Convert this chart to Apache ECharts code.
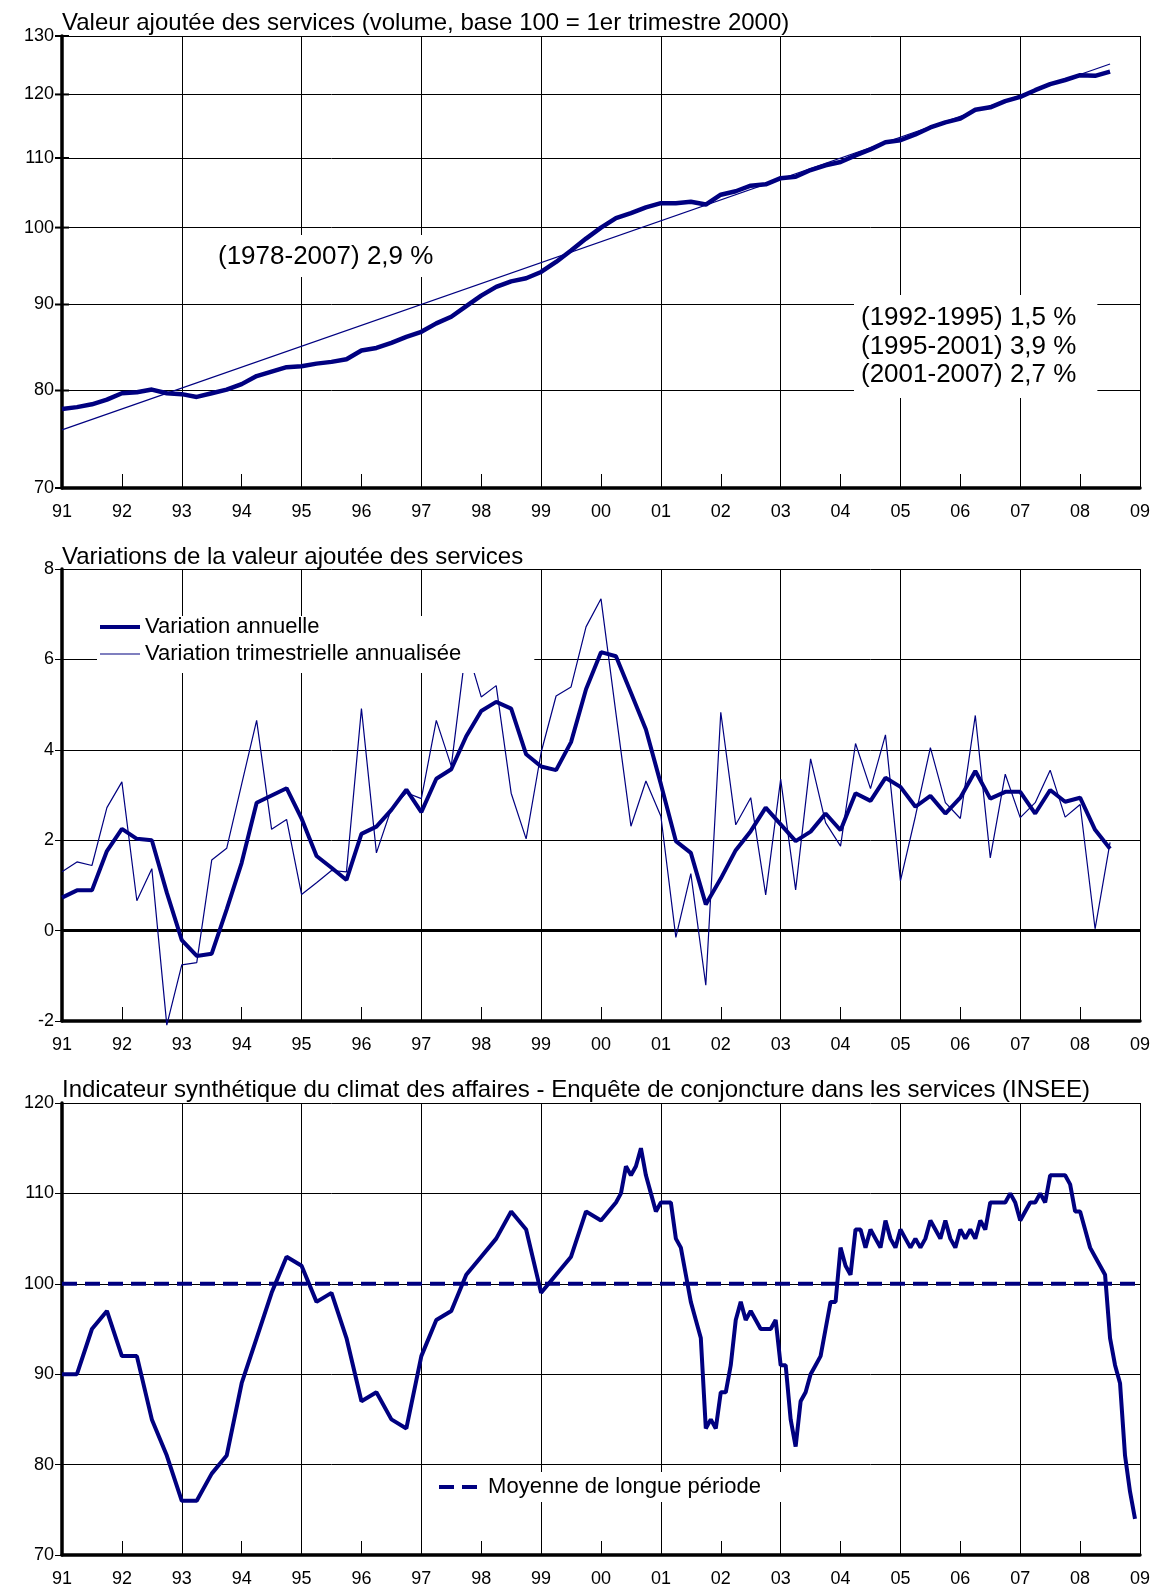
<!DOCTYPE html>
<html lang="fr">
<head>
<meta charset="utf-8">
<title>Valeur ajoutée et climat des affaires dans les services</title>
<script src="https://cdn.jsdelivr.net/npm/echarts@6/dist/echarts.min.js"></script>
<style>
  html, body { margin: 0; padding: 0; background: #fff; }
  #chart { width: 1153px; height: 1590px; }
</style>
</head>
<body>
<div id="chart"></div>
<script>
// axe des temps : x = années écoulées depuis 1991
const annees = ['91', '92', '93', '94', '95', '96', '97', '98', '99', '00',
  '01', '02', '03', '04', '05', '06', '07', '08', '09']

// valeur ajoutée des services, volume, base 100 = 1er trimestre 2000 (1991T1 - 2008T3)
const valeurAjoutee = [
  78.0, 78.2, 78.5, 79.0,
  79.7, 79.8, 80.1, 79.7,
  79.6, 79.3, 79.7, 80.1,
  80.7, 81.6, 82.1, 82.6,
  82.7, 83.0, 83.2, 83.5,
  84.5, 84.8, 85.4, 86.1,
  86.7, 87.7, 88.5, 89.8,
  91.1, 92.2, 92.9, 93.3,
  94.1, 95.4, 96.9, 98.5,
  100.0, 101.3, 102.0, 102.8,
  103.4, 103.4, 103.6, 103.2,
  104.6, 105.1, 105.9, 106.1,
  107.0, 107.2, 108.2, 108.9,
  109.4, 110.4, 111.3, 112.4,
  112.7, 113.6, 114.7, 115.5,
  116.1, 117.5, 117.9, 118.9,
  119.6, 120.7, 121.7, 122.4,
  123.2, 123.1, 123.8,
]
// tendance (1978-2007) 2,9 % : trimestres de début et de fin, valeurs lues
const tendanceTrimestres = [0, 70]
const tendance = [75.8, 125.1]
const graduationsVA = [70, 80, 90, 100, 110, 120, 130]

// variations en % (1991T1 - 2008T3)
const variationAnnuelle = [
  0.73, 0.89, 0.89, 1.76,
  2.25, 2.03, 2.00, 0.84,
  -0.21, -0.56, -0.51, 0.47,
  1.50, 2.83, 2.99, 3.15,
  2.48, 1.65, 1.39, 1.12,
  2.14, 2.30, 2.67, 3.12,
  2.62, 3.36, 3.57, 4.30,
  4.86, 5.06, 4.91, 3.90,
  3.63, 3.55, 4.17, 5.34,
  6.16, 6.07, 5.26, 4.45,
  3.24, 1.98, 1.72, 0.58,
  1.15, 1.78, 2.20, 2.72,
  2.35, 1.98, 2.19, 2.59,
  2.22, 3.04, 2.87, 3.38,
  3.18, 2.74, 2.98, 2.59,
  2.94, 3.53, 2.92, 3.07,
  3.07, 2.59, 3.11, 2.85,
  2.94, 2.23, 1.81,
]
const variationTrimestrielle = [
  1.30, 1.52, 1.44, 2.72,
  3.29, 0.66, 1.37, -2.09,
  -0.76, -0.71, 1.56, 1.82,
  3.24, 4.65, 2.24, 2.46,
  0.80, 1.06, 1.33, 1.30,
  4.91, 1.72, 2.70, 3.05,
  2.92, 4.65, 3.64, 6.30,
  5.17, 5.42, 3.04, 2.03,
  3.94, 5.19, 5.39, 6.72,
  7.34, 4.80, 2.31, 3.31,
  2.53, -0.15, 1.26, -1.21,
  4.83, 2.34, 2.94, 0.79,
  3.35, 0.90, 3.80, 2.39,
  1.87, 4.14, 3.14, 4.33,
  1.10, 2.53, 4.05, 2.83,
  2.48, 4.76, 1.61, 3.46,
  2.50, 2.83, 3.55, 2.51,
  2.79, 0.04, 1.95,
]

// climat des affaires : trimestriel 1991T1 - 2000T1, puis mensuel avril 2000 - décembre 2008
const climatTrimestriel = [
  90, 90, 95, 97, 92, 92, 85, 81, 76, 76, 79, 81,
  89, 94, 99, 103, 102, 98, 99, 94, 87, 88, 85, 84,
  92, 96, 97, 101, 103, 105, 108, 106, 99, 101, 103, 108,
  107,
]
const climatMensuel = [
  109, 110, 113, 112, 113, 115, 112, 110, 108,
  109, 109, 109, 105, 104, 101, 98, 96, 94, 84, 85, 84,
  88, 88, 91, 96, 98, 96, 97, 96, 95, 95, 95, 96,
  91, 91, 85, 82, 87, 88, 90, 91, 92, 95, 98, 98,
  104, 102, 101, 106, 106, 104, 106, 105, 104, 107, 105, 104,
  106, 105, 104, 105, 104, 105, 107, 106, 105, 107, 105, 104,
  106, 105, 106, 105, 107, 106, 109, 109, 109, 109, 110, 109,
  107, 108, 109, 109, 110, 109, 112, 112, 112, 112, 111, 108,
  108, 106, 104, 103, 102, 101, 94, 91, 89, 81, 77, 74,
]
const moyenneLonguePeriode = 100

const FONT = '"Liberation Sans", Arial, Helvetica, sans-serif'
const NAVY = '#000080'
// petits traits de graduation à gauche de l'axe logarithmique
const TICK_SYMBOL = 'path://M0,0M0,6h14v2h-14zM14,14'
// pictogrammes de légende (boîte 40x14 ou 38x14)
const ICON_EPAIS = 'path://M0,0M0,5h40v4h-40zM40,14'
const ICON_FIN = 'path://M0,0M0,6.4h40v1.2h-40zM40,14'
const ICON_TIRETS = 'path://M0,0M0,5h15v4h-15zM23,5h15v4h-15zM38,14'

const trimestre = (i) => i / 4
const moisDepuisAvril2000 = (j) => 9.25 + j / 12

function xAxis(gridIndex) {
  return {
    type: 'value',
    gridIndex,
    min: 0,
    max: annees.length - 1,
    interval: 1,
    axisLine: { show: true, onZero: false, lineStyle: { color: '#000', width: 3.5 } },
    axisTick: { show: true, inside: true, length: 14, lineStyle: { color: '#000', width: 1 } },
    axisLabel: {
      color: '#000',
      fontSize: 18,
      fontFamily: FONT,
      margin: 15,
      showMinLabel: true,
      showMaxLabel: true,
      formatter: (v) => annees[Math.round(v)],
    },
    // un trait vertical tous les deux ans (91, 93, ... 09)
    splitLine: { show: true, lineStyle: { color: ['#000', 'rgba(0,0,0,0)'], width: 1 } },
  }
}

function yAxis(gridIndex, extra) {
  return Object.assign({
    gridIndex,
    axisLine: { show: true, onZero: false, lineStyle: { color: '#000', width: 3.5 } },
    axisTick: { show: true, length: 7, lineStyle: { color: '#000', width: 1 } },
    axisLabel: { color: '#000', fontSize: 18, fontFamily: FONT, margin: 8 },
    splitLine: { show: true, lineStyle: { color: '#000', width: 1 } },
  }, extra)
}

function grid(top) {
  return { left: 62, right: 13, top, height: 452, containLabel: false, outerBoundsMode: 'none' }
}

function titre(text, top) {
  return { type: 'text', left: 62, top, z: 10, style: { text, font: '24px ' + FONT, fill: '#000' } }
}

const legendText = { color: '#000', fontSize: 22, lineHeight: 22, fontFamily: FONT }

function buildOption() {
  return {
    backgroundColor: '#fff',
    animation: false,
    grid: [grid(36), grid(569), grid(1103)],
    xAxis: [xAxis(0), xAxis(1), xAxis(2)],
    yAxis: [
      yAxis(0, {
        type: 'log',
        logBase: 10,
        min: 70,
        max: 130,
        axisTick: { show: false },
        axisLabel: { show: false },
        splitLine: { show: false },
      }),
      yAxis(1, { type: 'value', min: -2, max: 8, interval: 2 }),
      yAxis(2, { type: 'value', min: 70, max: 120, interval: 10 }),
    ],
    legend: [
      {
        data: [
          { name: 'Variation annuelle', icon: ICON_EPAIS },
          { name: 'Variation trimestrielle annualisée', icon: ICON_FIN },
        ],
        orient: 'vertical',
        left: 97,
        top: 616,
        itemWidth: 40,
        itemHeight: 14,
        itemGap: 5,
        padding: [0, 73, 8, 3],
        backgroundColor: '#fff',
        selectedMode: false,
        itemStyle: { color: NAVY, borderWidth: 0 },
        textStyle: legendText,
      },
      {
        data: [{ name: 'Moyenne de longue période', icon: ICON_TIRETS }],
        left: 430,
        top: 1472,
        itemWidth: 38,
        itemHeight: 14,
        padding: [4, 33, 4, 9],
        backgroundColor: '#fff',
        selectedMode: false,
        formatter: ' {name}',
        itemStyle: { color: NAVY, borderWidth: 0 },
        textStyle: legendText,
      },
    ],
    graphic: [
      titre('Valeur ajoutée des services (volume, base 100 = 1er trimestre 2000)', 11),
      titre('Variations de la valeur ajoutée des services', 545),
      titre('Indicateur synthétique du climat des affaires - Enquête de conjoncture dans les services (INSEE)', 1078),
      {
        type: 'text',
        left: 210,
        top: 235,
        z: 10,
        style: {
          text: '(1978-2007) 2,9 %',
          font: '26px ' + FONT,
          fill: '#000',
          lineHeight: 28,
          backgroundColor: '#fff',
          padding: [8, 9, 6, 8],
        },
      },
      {
        type: 'text',
        left: 854,
        top: 295,
        z: 10,
        style: {
          text: '(1992-1995) 1,5 %\n(1995-2001) 3,9 %\n(2001-2007) 2,7 %',
          font: '26px ' + FONT,
          fill: '#000',
          lineHeight: 28.3,
          backgroundColor: '#fff',
          padding: [9, 21, 9, 7],
        },
      },
    ],
    series: [
      {
        name: 'Tendance (1978-2007)',
        type: 'line',
        xAxisIndex: 0,
        yAxisIndex: 0,
        symbol: 'none',
        silent: true,
        data: tendanceTrimestres.map((q, i) => [trimestre(q), tendance[i]]),
        itemStyle: { color: NAVY },
        lineStyle: { color: NAVY, width: 1.2 },
        markLine: {
          silent: true,
          z: 1,
          animation: false,
          symbol: [TICK_SYMBOL, 'none'],
          symbolSize: 14,
          symbolRotate: 0,
          lineStyle: { color: '#000', width: 1, type: 'solid' },
          label: {
            show: true,
            position: 'start',
            distance: 8,
            formatter: '{b}',
            color: '#000',
            fontSize: 18,
            fontFamily: FONT,
          },
          emphasis: { disabled: true },
          data: graduationsVA.map((v) => ({ yAxis: v, name: String(v) })),
        },
      },
      {
        name: 'Valeur ajoutée des services',
        type: 'line',
        xAxisIndex: 0,
        yAxisIndex: 0,
        symbol: 'none',
        data: valeurAjoutee.map((v, i) => [trimestre(i), v]),
        itemStyle: { color: NAVY },
        lineStyle: { color: NAVY, width: 4.5 },
      },
      {
        name: 'Variation trimestrielle annualisée',
        type: 'line',
        xAxisIndex: 1,
        yAxisIndex: 1,
        symbol: 'none',
        clip: false,
        data: variationTrimestrielle.map((v, i) => [trimestre(i), v]),
        itemStyle: { color: NAVY },
        lineStyle: { color: NAVY, width: 1.2 },
      },
      {
        name: 'Variation annuelle',
        type: 'line',
        xAxisIndex: 1,
        yAxisIndex: 1,
        symbol: 'none',
        data: variationAnnuelle.map((v, i) => [trimestre(i), v]),
        itemStyle: { color: NAVY },
        lineStyle: { color: NAVY, width: 4 },
        markLine: {
          silent: true,
          z: 1,
          animation: false,
          symbol: 'none',
          label: { show: false },
          lineStyle: { color: '#000', width: 3, type: 'solid' },
          emphasis: { disabled: true },
          data: [{ yAxis: 0 }],
        },
      },
      {
        name: 'Moyenne de longue période',
        type: 'line',
        xAxisIndex: 2,
        yAxisIndex: 2,
        symbol: 'none',
        data: [[0, moyenneLonguePeriode], [annees.length - 1, moyenneLonguePeriode]],
        itemStyle: { color: NAVY },
        lineStyle: { color: NAVY, width: 4, type: [15, 8] },
      },
      {
        name: 'Climat des affaires',
        type: 'line',
        xAxisIndex: 2,
        yAxisIndex: 2,
        symbol: 'none',
        data: climatTrimestriel.map((v, i) => [trimestre(i), v])
          .concat(climatMensuel.map((v, j) => [moisDepuisAvril2000(j), v])),
        itemStyle: { color: NAVY },
        lineStyle: { color: NAVY, width: 4 },
      },
    ],
  }
}

const chart = echarts.init(document.getElementById('chart'), null, { renderer: 'canvas' })
chart.setOption(buildOption())
</script>
</body>
</html>
